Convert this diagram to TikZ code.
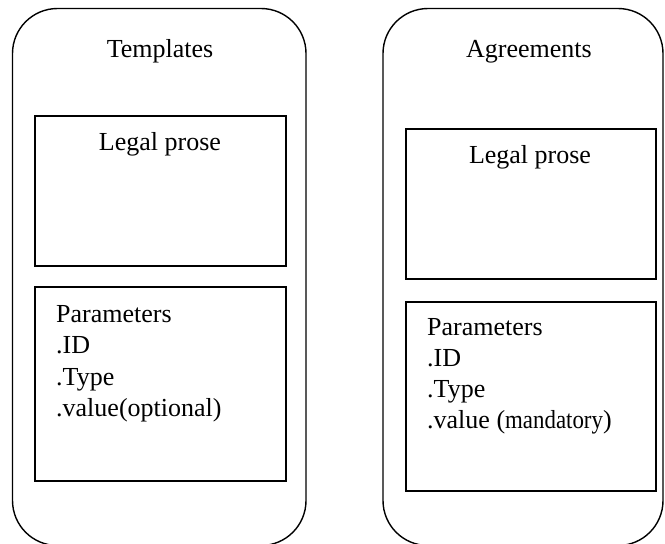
\documentclass[tikz,border=0pt]{standalone}
\usepackage{fontspec}
\setmainfont{Liberation Serif}
\begin{document}
\begin{tikzpicture}[x=1pt,y=-1pt,
  outerbox/.style={draw, line width=1.4pt, rounded corners=45pt, inner sep=0pt},
  innerbox/.style={draw, line width=1.4pt, inner sep=0pt},
  lbl/.style={inner sep=0pt, anchor=base, font=\fontsize{26}{31}\selectfont},
  lline/.style={inner sep=0pt, anchor=base west, font=\fontsize{26}{31}\selectfont}]
\useasboundingbox (0,0) rectangle (665,544);
\clip (0,0) rectangle (665,544);
% outer rounded containers
\node[outerbox, minimum width=293.5pt, minimum height=537pt] (tmpl) at (159.25,277) {};
\node[outerbox, minimum width=280pt, minimum height=537pt] (agr) at (523,277) {};
% inner boxes
\node[innerbox, minimum width=251pt, minimum height=150pt] (tlegal) at (160.5,191) {};
\node[innerbox, minimum width=251pt, minimum height=194pt] (tparam) at (160.5,384) {};
\node[innerbox, minimum width=250pt, minimum height=150pt] (alegal) at (531,204) {};
\node[innerbox, minimum width=250pt, minimum height=189pt] (aparam) at (531,396.5) {};
% titles
\node[lbl] (ttitle) at (160,57) {Templates};
\node[lbl] (atitle) at (529,57) {Agreements};
\node[lbl] (tlegaltxt) at (160,150) {Legal prose};
\node[lbl] (alegaltxt) at (530,163) {Legal prose};
% template parameters
\node[lline] (tp1) at (56,322) {Parameters};
\node[lline] (tp2) at (56,353.5) {.ID};
\node[lline] (tp3) at (56,385) {.Type};
\node[lline] (tp4) at (56,416.5) {.value(optional)};
% agreement parameters
\node[lline] (ap1) at (427,335) {Parameters};
\node[lline] (ap2) at (427,366) {.ID};
\node[lline] (ap3) at (427,397) {.Type};
\node[lline] (ap4) at (427,428) {.value (\scalebox{0.88}[1]{mandatory})};
\end{tikzpicture}
\end{document}
